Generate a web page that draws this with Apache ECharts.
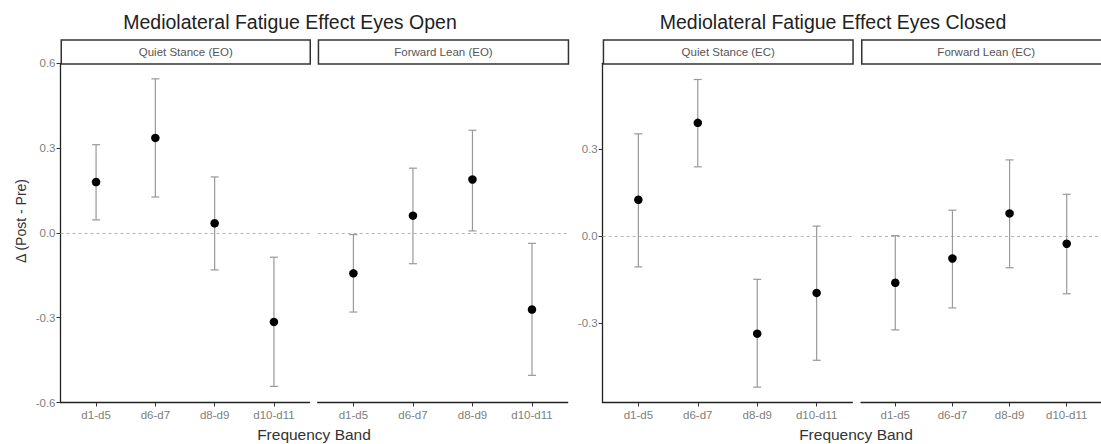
<!DOCTYPE html>
<html>
<head>
<meta charset="utf-8">
<script src="https://cdn.jsdelivr.net/npm/echarts@6/dist/echarts.min.js"></script>
<style>
html,body{margin:0;padding:0;background:#fff;}
#chart{width:1101px;height:444px;}
</style>
</head>
<body>
<div id="chart"></div>
<script>
// ---- data ----
const categories = ['d1-d5', 'd6-d7', 'd8-d9', 'd10-d11'];
const stripLabels = ['Quiet Stance (EO)', 'Forward Lean (EO)', 'Quiet Stance (EC)', 'Forward Lean (EC)'];
const chartTitles = ['Mediolateral Fatigue Effect Eyes Open', 'Mediolateral Fatigue Effect Eyes Closed'];
const yAxisTitle = 'Δ (Post - Pre)';
const xAxisTitle = 'Frequency Band';

const eoQuietMean = [0.180, 0.336, 0.034, -0.315];
const eoQuietLow  = [0.046, 0.127, -0.131, -0.543];
const eoQuietHigh = [0.312, 0.545, 0.198, -0.086];

const eoLeanMean = [-0.143, 0.061, 0.189, -0.271];
const eoLeanLow  = [-0.280, -0.109, 0.007, -0.504];
const eoLeanHigh = [-0.006, 0.229, 0.363, -0.037];

const ecQuietMean = [0.126, 0.392, -0.337, -0.196];
const ecQuietLow  = [-0.106, 0.240, -0.522, -0.429];
const ecQuietHigh = [0.354, 0.542, -0.149, 0.035];

const ecLeanMean = [-0.161, -0.077, 0.079, -0.026];
const ecLeanLow  = [-0.324, -0.248, -0.109, -0.199];
const ecLeanHigh = [0.002, 0.090, 0.264, 0.145];

const eoYTicks = [-0.6, -0.3, 0, 0.3, 0.6];
const ecYTicks = [-0.3, 0, 0.3];
const eoYRange = [-0.6, 0.6];
const ecYRange = [-0.575, 0.598];

// ---- layout ----
const FONT = 'Liberation Sans, Arial, sans-serif';
const panelTop = 63.3;
const panelBottom = 402.5;
const panels = [
  {left: 60.5, width: 249, mean: eoQuietMean, low: eoQuietLow, high: eoQuietHigh, range: eoYRange, ticks: eoYTicks, showY: true},
  {left: 317.7, width: 250, mean: eoLeanMean, low: eoLeanLow, high: eoLeanHigh, range: eoYRange, ticks: eoYTicks, showY: false},
  {left: 602.7, width: 249.6, mean: ecQuietMean, low: ecQuietLow, high: ecQuietHigh, range: ecYRange, ticks: ecYTicks, showY: true},
  {left: 861, width: 249, mean: ecLeanMean, low: ecLeanLow, high: ecLeanHigh, range: ecYRange, ticks: ecYTicks, showY: false}
];
const catPos = categories.map((c, i) => i + 1);

const grid = [], xAxis = [], yAxis = [], series = [], graphic = [];

panels.forEach((p, k) => {
  grid.push({left: p.left, top: panelTop, width: p.width, height: panelBottom - panelTop, containLabel: false});
  xAxis.push({
    type: 'value', gridIndex: k, min: 0.4, max: 4.6,
    axisLine: {show: true, onZero: false, lineStyle: {color: '#222', width: 1.3}},
    axisTick: {show: true, customValues: catPos, length: 4, lineStyle: {color: '#333'}},
    axisLabel: {show: true, customValues: catPos, formatter: v => categories[Math.round(v) - 1],
      color: '#808080', fontSize: 11.5, fontFamily: FONT, margin: 6},
    splitLine: {show: false}
  });
  yAxis.push({
    type: 'value', gridIndex: k, min: p.range[0], max: p.range[1],
    axisLine: {show: p.showY, onZero: false, lineStyle: {color: '#222', width: 1.3}},
    axisTick: {show: p.showY, customValues: p.ticks, length: 4, lineStyle: {color: '#333'}},
    axisLabel: {show: p.showY, customValues: p.ticks, formatter: v => v.toFixed(1),
      color: '#808080', fontSize: 11.5, fontFamily: FONT, margin: 5},
    splitLine: {show: false}
  });
  series.push({
    type: 'custom', xAxisIndex: k, yAxisIndex: k,
    data: catPos.map((x, i) => [x, p.low[i], p.high[i]]),
    encode: {x: 0, y: [1, 2]},
    renderItem: function (params, api) {
      const x = api.value(0);
      const a = api.coord([x, api.value(1)]);
      const b = api.coord([x, api.value(2)]);
      const hw = 4;
      const st = {stroke: '#999', lineWidth: 1.2};
      return {type: 'group', children: [
        {type: 'line', shape: {x1: a[0], y1: a[1], x2: b[0], y2: b[1]}, style: st},
        {type: 'line', shape: {x1: a[0] - hw, y1: a[1], x2: a[0] + hw, y2: a[1]}, style: st},
        {type: 'line', shape: {x1: b[0] - hw, y1: b[1], x2: b[0] + hw, y2: b[1]}, style: st}
      ]};
    },
    silent: true, z: 2
  });
  series.push({
    type: 'scatter', xAxisIndex: k, yAxisIndex: k,
    data: catPos.map((x, i) => [x, p.mean[i]]),
    symbol: 'circle', symbolSize: 8.5,
    itemStyle: {color: '#000', opacity: 1},
    z: 3, silent: true,
    markLine: {
      silent: true, symbol: 'none', label: {show: false},
      lineStyle: {color: '#b5b5b5', type: [3, 3], width: 1},
      data: [{yAxis: 0}], z: 1
    }
  });
  // strip
  graphic.push({
    type: 'group', left: p.left, top: 39.3,
    children: [
      {type: 'rect', shape: {x: 0, y: 0, width: p.width, height: 24}, style: {fill: '#fff', stroke: '#333', lineWidth: 1.5}},
      {type: 'text', x: p.width / 2, y: 12, style: {text: stripLabels[k], fill: '#555', font: '11.5px ' + FONT, textAlign: 'center', textVerticalAlign: 'middle'}}
    ]
  });
});

// titles
graphic.push({type: 'text', x: 290, y: 22, style: {text: chartTitles[0], fill: '#222', font: '19.5px ' + FONT, textAlign: 'center', textVerticalAlign: 'middle'}});
graphic.push({type: 'text', x: 833, y: 22, style: {text: chartTitles[1], fill: '#222', font: '19.5px ' + FONT, textAlign: 'center', textVerticalAlign: 'middle'}});
// axis titles
graphic.push({type: 'text', x: 20.5, y: 221, rotation: Math.PI / 2, style: {text: yAxisTitle, fill: '#333', font: '14px ' + FONT, textAlign: 'center', textVerticalAlign: 'middle'}});
graphic.push({type: 'text', x: 314, y: 434, style: {text: xAxisTitle, fill: '#333', font: '15.5px ' + FONT, textAlign: 'center', textVerticalAlign: 'middle'}});
graphic.push({type: 'text', x: 856, y: 434, style: {text: xAxisTitle, fill: '#333', font: '15.5px ' + FONT, textAlign: 'center', textVerticalAlign: 'middle'}});

const chart = echarts.init(document.getElementById('chart'), null, {renderer: 'svg'});
chart.setOption({
  backgroundColor: '#fff',
  animation: false,
  grid, xAxis, yAxis, series, graphic
});
</script>
</body>
</html>
